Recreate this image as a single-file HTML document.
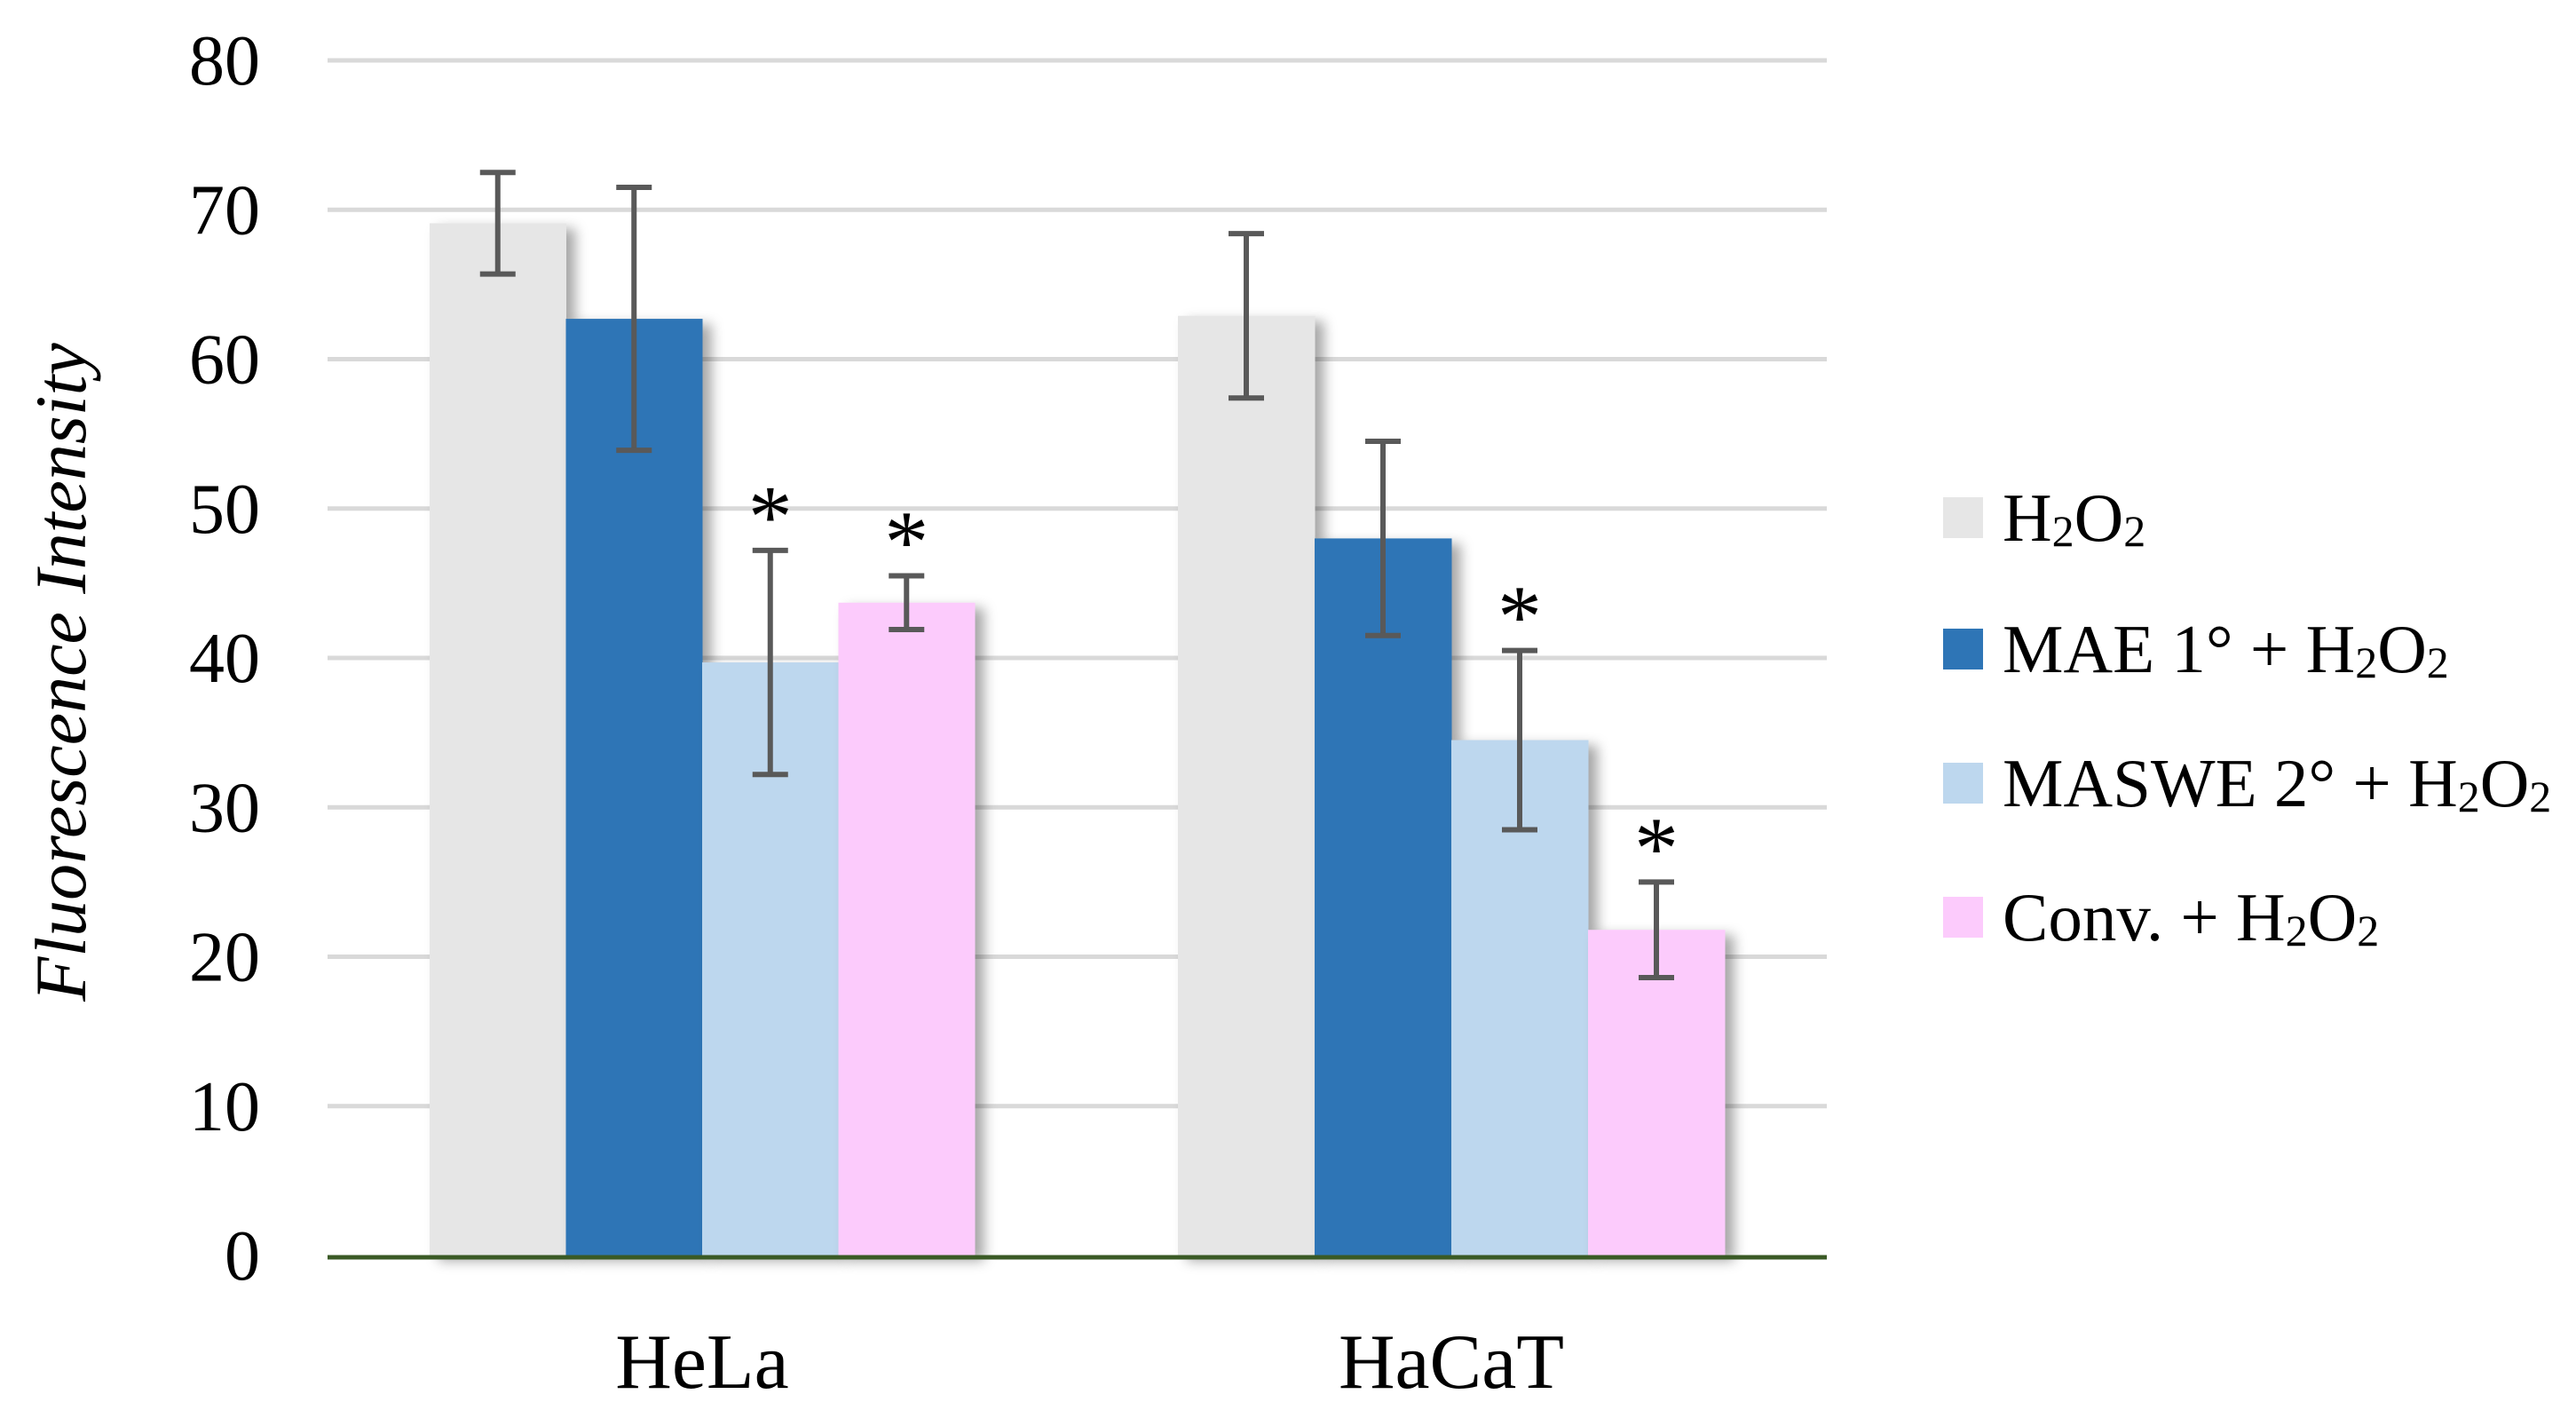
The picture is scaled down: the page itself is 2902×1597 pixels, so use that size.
<!DOCTYPE html>
<html><head><meta charset="utf-8"><style>
html,body{margin:0;padding:0;background:#fff;}
svg{display:block;font-family:"Liberation Serif",serif;}
</style></head><body>
<svg id="chart" width="2902" height="1597" viewBox="0 0 2902 1597" xmlns="http://www.w3.org/2000/svg">
<defs><filter id="sh" x="-20%" y="-20%" width="150%" height="150%"><feDropShadow dx="10" dy="6" stdDeviation="7" flood-color="#000" flood-opacity="0.35"/></filter></defs>
<g id="grid"></g><g id="bars"></g><g id="errs"></g><g id="stars"></g><g id="labels"></g>
<text transform="translate(96,757) rotate(-90)" text-anchor="middle" font-size="82" font-style="italic" fill="#000">Fluorescence Intensity</text>
<g id="legend"></g>
</svg>
<script>
const categories = ["HeLa","HaCaT"];
const seriesNames = [["H","2","O","2"],["MAE 1\u00b0 + H","2","O","2"],["MASWE 2\u00b0 + H","2","O","2"],["Conv. + H","2","O","2"]];
const h2o2 = [69.1, 62.9];
const mae = [62.7, 48.0];
const maswe = [39.7, 34.5];
const conv = [43.7, 21.8];
const errH2o2 = [3.4, 5.5];
const errMae = [8.8, 6.5];
const errMaswe = [7.5, 6.0];
const errConv = [1.8, 3.2];
const starred = [[false,false,true,true],[false,false,true,true]];
const yTicks = [0,10,20,30,40,50,60,70,80];

const colors = ["#e6e6e6","#2e75b6","#bdd7ee","#fccbfc"];
const series = [h2o2, mae, maswe, conv];
const errs = [errH2o2, errMae, errMaswe, errConv];
const NS = "http://www.w3.org/2000/svg";
const y0 = 1414, yTop = 68, yMax = 80;
const plotL = 369, plotR = 2058;
const y = v => y0 - (v / yMax) * (y0 - yTop);
const groupStart = [484, 1327];
const barW = [153.5, 154];
function el(tag, attrs, parent){ const e=document.createElementNS(NS,tag); for(const k in attrs) e.setAttribute(k,attrs[k]); parent.appendChild(e); return e; }
const grid=document.getElementById('grid'), bars=document.getElementById('bars'), eg=document.getElementById('errs'), sg=document.getElementById('stars'), lg=document.getElementById('labels'), leg=document.getElementById('legend');
yTicks.forEach(t=>{
  if(t>0){ const l=el('line',{x1:plotL,x2:plotR,y1:y(t),y2:y(t),stroke:'#d9d9d9','stroke-width':5},grid);
  
   }
  const tx=el('text',{x:293,y:y(t)+27,'text-anchor':'end','font-size':80,fill:'#000'},lg);
  tx.textContent=t;
  
  
});
categories.forEach((c,ci)=>{
  series.forEach((s,si)=>{
    const x=groupStart[ci]+si*barW[ci];
    const r=el('rect',{x:x,y:y(s[ci]),width:barW[ci]+0.5,height:y0-y(s[ci]),fill:colors[si],filter:'url(#sh)'},bars);
    
    
    const cx=x+barW[ci]/2, hi=y(s[ci]+errs[si][ci]), lo=y(s[ci]-errs[si][ci]);
    const g=el('g',{stroke:'#595959','stroke-width':6},eg);
    
    
    el('line',{x1:cx,x2:cx,y1:hi,y2:lo},g);
    el('line',{x1:cx-20,x2:cx+20,y1:hi,y2:hi},g);
    el('line',{x1:cx-20,x2:cx+20,y1:lo,y2:lo},g);
    if(starred[ci][si]){
      const st=el('text',{x:cx,y:hi-5,'text-anchor':'middle','font-size':100,fill:'#000'},sg);
      st.textContent='*';
      
      
    }
  });
  const cl=el('text',{x:groupStart[ci]+2*barW[ci],y:1563,'text-anchor':'middle','font-size':88,fill:'#000'},lg);
  cl.textContent=c;
  
  
});
const ax=el('line',{x1:plotL,x2:plotR,y1:y0+2,y2:y0+2,stroke:'#3a5a25','stroke-width':5},lg);


const legY=[583,731,882,1033];
seriesNames.forEach((n,i)=>{
  const g=el('g',{},leg);
  
  
  el('rect',{x:2189,y:legY[i]-23,width:45,height:46,fill:colors[i]},g);
  const t=el('text',{x:2256,y:legY[i]+26,'font-size':77,fill:'#000'},g);
  n.forEach((part,pi)=>{
    const sp=el('tspan',{},t);
    if(pi%2===1){ sp.setAttribute('font-size','50'); sp.setAttribute('dy','6'); }
    else if(pi>0){ sp.setAttribute('dy','-6'); }
    sp.textContent=part;
  });
});
</script>
</body></html>
